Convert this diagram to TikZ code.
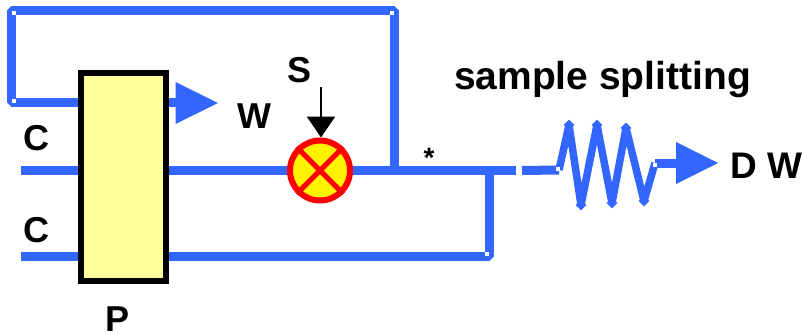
\documentclass[tikz,border=0pt]{standalone}
\usepackage{fontspec}
\setmainfont{Liberation Sans}
\usetikzlibrary{arrows.meta,shapes.geometric}
\definecolor{pipe}{HTML}{3366FF}
\definecolor{boxfill}{HTML}{FFFF99}
\tikzset{
  pipeline/.style={draw=pipe,line width=9pt,line join=bevel},
  coilline/.style={draw=pipe,line width=7.5pt,line join=bevel},
  label/.style={font=\bfseries\fontsize{36}{36}\selectfont,inner sep=0pt,text=black},
  corner/.style={fill=white,minimum size=4pt,inner sep=0pt,draw=none},
  tipmark/.style={fill=pipe,diamond,minimum size=11pt,inner sep=0pt,draw=none},
  bluehead/.style={fill=pipe,draw=none},
}
\begin{document}
\begin{tikzpicture}[x=1pt,y=-1pt]
\useasboundingbox (0,0) rectangle (802,334);
\coordinate (inA) at (21,170.5);
\coordinate (inB) at (21,256.5);
\coordinate (jLoop) at (394,170.5);
\coordinate (jBy) at (489,170.5);
\coordinate (gapL) at (516,170.5);
\coordinate (gapR) at (522,170.5);
\coordinate (cBy) at (489,256.5);
\coordinate (tr) at (394,10.5);
\coordinate (tl) at (11.7,10.5);
\coordinate (bl) at (11.7,103);
\coordinate (wBase) at (176,103);
\coordinate (wTip) at (218,103);
\coordinate (s0) at (559,170);
\coordinate (s1) at (569,125);
\coordinate (s2) at (581,205);
\coordinate (s3) at (597,125);
\coordinate (s4) at (612,203);
\coordinate (s5) at (626,128);
\coordinate (s6) at (644,201);
\coordinate (s7) at (655,163);
\coordinate (dBase) at (676,163);
\coordinate (dTip) at (718,163);
\coordinate (sTop) at (321,87);
\draw[pipeline] (inA) -- (gapL);
\draw[pipeline] (inB) -- (cBy) -- (jBy);
\draw[pipeline] (jLoop) -- (tr) -- (tl) -- (bl) -- (wBase);
\draw[pipeline] (gapR) -- (s0);
\draw[coilline] (s0) -- (s1) -- (s2) -- (s3) -- (s4) -- (s5) -- (s6) -- (s7);
\draw[pipeline] (s7) -- (dBase);
\foreach \p in {s1,s2,s3,s4,s5,s6}{\node[tipmark] (m\p) at (\p) {};}
\node[corner] (c1) at (14,12.7) {};
\node[corner] (c2) at (14,101) {};
\node[corner] (c3) at (487,254) {};
\node[corner] (c4) at (392,12.7) {};
\node[corner] (c5) at (558,169) {};
\node[corner] (c6) at (655,165) {};
\fill[bluehead] (wTip) -- (175.5,82) -- (175.5,124) -- cycle;
\fill[bluehead] (dTip) -- (676,142) -- (676,184) -- cycle;
\node[draw=black,fill=boxfill,line width=6pt,minimum width=85pt,minimum height=208pt,inner sep=0pt] (P) at (123.8,177) {};
\node[circle,draw=red,fill=yellow,line width=6pt,minimum size=60pt,inner sep=0pt] (V) at (320,170.5) {};
\draw[red,line width=5pt] (V.north west) -- (V.south east);
\draw[red,line width=5pt] (V.north east) -- (V.south west);
\draw[black,line width=2.5pt,-{Triangle[length=21pt,width=28pt]}] (sTop) -- (V.north -| sTop);
\node[label] (lS) at (300,70) {S};
\node[label] (lW) at (254,116) {W};
\node[label] (lC1) at (36,138) {C};
\node[label] (lC2) at (36,230) {C};
\node[label] (lP) at (118,319.5) {P};
\node[label,font=\bfseries\fontsize{37}{37}\selectfont] (lDW) at (766,166) {D W};
\node[label,font=\bfseries\fontsize{39}{39}\selectfont] (lSS) at (602.5,80) {sample splitting};
\node[label,font=\bfseries\fontsize{28}{28}\selectfont] (star) at (429,158) {*};
\end{tikzpicture}
\end{document}
